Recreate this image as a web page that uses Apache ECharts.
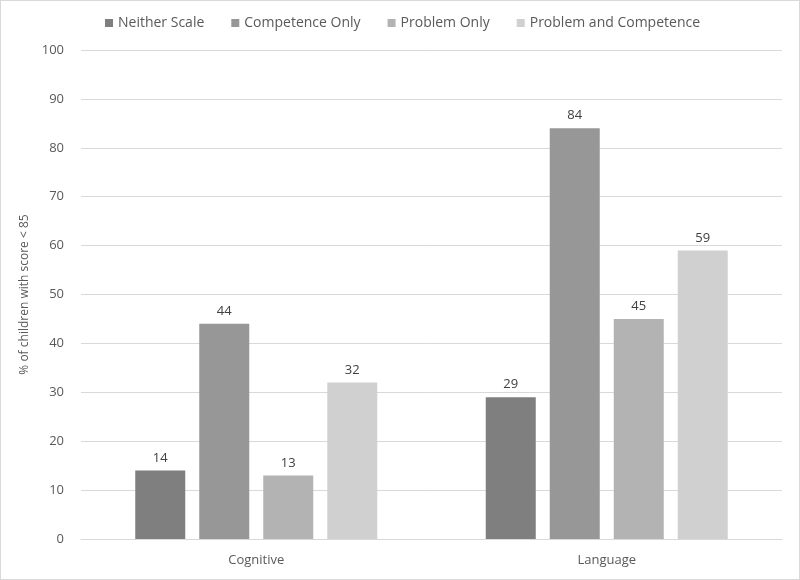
<!DOCTYPE html>
<html><head><meta charset="utf-8">
<script src="https://cdn.jsdelivr.net/npm/echarts@6/dist/echarts.min.js"></script>
<style>html,body{margin:0;padding:0;background:#fff}#c{width:800px;height:580px;box-sizing:border-box;border:1px solid #d9d9d9}</style>
</head><body><div id="c"></div>
<script>
const categories = ['Cognitive', 'Language'];
const seriesNames = ['Neither Scale', 'Competence Only', 'Problem Only', 'Problem and Competence'];
const neitherScale = [14, 29];
const competenceOnly = [44, 84];
const problemOnly = [13, 45];
const problemAndCompetence = [32, 59];
const colors = ['#7f7f7f', '#979797', '#b3b3b3', '#d0d0d0'];
const values = [neitherScale, competenceOnly, problemOnly, problemAndCompetence];
const font = "'Open Sans', 'Liberation Sans', sans-serif";
const chart = echarts.init(document.getElementById('c'));
chart.setOption({
  animation: false,
  textStyle: { fontFamily: font, color: '#595959' },
  legend: {
    top: 10, left: 99, itemWidth: 8, itemHeight: 8, itemGap: 27,
    icon: 'rect',
    textStyle: { fontSize: 14, color: '#595959', fontFamily: font },
    data: seriesNames
  },
  grid: { left: 80, right: 17, top: 49, bottom: 40, containLabel: false },
  xAxis: {
    type: 'category', data: categories,
    axisTick: { show: false },
    axisLine: { lineStyle: { color: '#d9d9d9' } },
    axisLabel: { fontSize: 13, color: '#595959', margin: 15, fontFamily: font }
  },
  yAxis: {
    type: 'value', min: 0, max: 100, interval: 10,
    name: '% of children with score < 85', nameLocation: 'middle', nameGap: 40,
    nameTextStyle: { fontSize: 12, color: '#595959', fontFamily: font },
    axisLine: { show: false }, axisTick: { show: false },
    axisLabel: { fontSize: 13, color: '#595959', margin: 17, fontFamily: font },
    splitLine: { lineStyle: { color: '#d9d9d9' } }
  },
  series: seriesNames.map((n, i) => ({
    name: n, type: 'bar', data: values[i],
    barWidth: 50, barGap: '28%', barCategoryGap: '31%',
    itemStyle: { color: colors[i] },
    label: { show: true, position: 'top', fontSize: 13, color: '#404040', distance: 6, fontFamily: font }
  }))
});
</script></body></html>
